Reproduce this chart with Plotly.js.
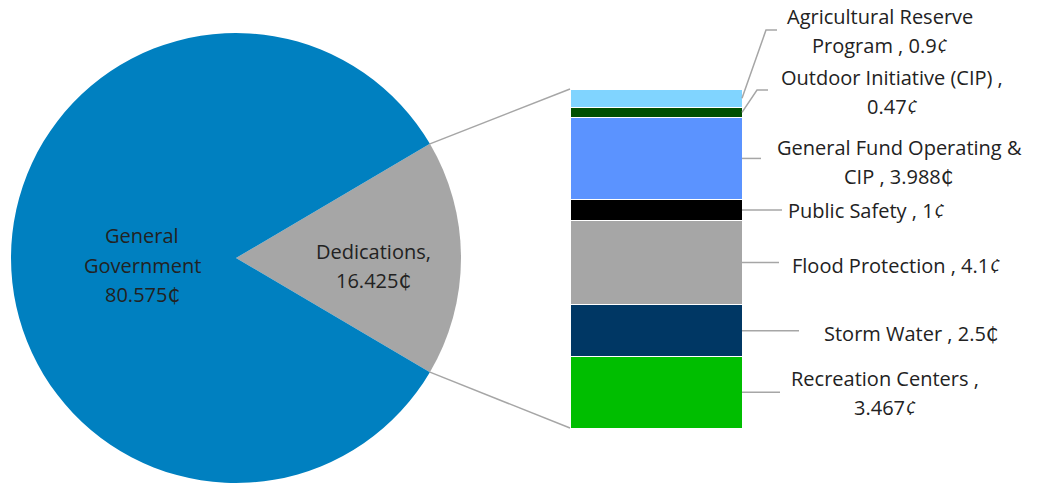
<!DOCTYPE html>
<html><head><meta charset="utf-8">
<script src="https://cdn.plot.ly/plotly-3.0.1.min.js"></script>
<style>html,body{margin:0;padding:0;background:#fff;}#chart{width:1037px;height:484px;}</style>
</head><body><div id="chart"></div>
<script>
// ---- data ----
const pieLabels = ['General Government', 'Dedications'];
const pieValues = [80.575, 16.425];
const pieUnits = ['₵', '₵'];
const pieColors = ['#0080C0', '#A6A6A6'];

const barLabels = ['Recreation Centers', 'Storm Water', 'Flood Protection', 'Public Safety',
  'General Fund Operating & CIP', 'Outdoor Initiative (CIP)', 'Agricultural Reserve Program'];
const barValues = [3.467, 2.5, 4.1, 1, 3.988, 0.47, 0.9];
const barUnits = ['¢', '₵', '¢', '¢', '₵', '¢', '¢'];
const barColors = ['#00BE00', '#003764', '#A6A6A6', '#000000', '#5B93FF', '#004F00', '#80D4FF'];

// ---- layout helpers ----
const W = 1037, H = 484;
const px = x => x / W;
const py = y => 1 - y / H;
const FONT = '"Open Sans", "DejaVu Sans", sans-serif';
const TXT = '#222222';
const LINE = '#A6A6A6';
const FS = 20;

// pie geometry (pixels)
const pieCx = 236, pieCy = 258, pieR = 225;
// bar geometry (pixels)
const barL = 570, barR = 742, barTop = 89, barBot = 428;

const pieTotal = pieValues.reduce((a, b) => a + b, 0);
const dedIdx = 1;
const dedHalfDeg = 180 * pieValues[dedIdx] / pieTotal;

const barTotal = barValues.reduce((a, b) => a + b, 0);
const dataToPxY = v => barBot - (barBot - barTop) * v / barTotal;

const traces = [];
traces.push({
  type: 'pie',
  labels: [pieLabels[1], pieLabels[0]],
  values: [pieValues[1], pieValues[0]],
  marker: {colors: [pieColors[1], pieColors[0]], line: {width: 0}},
  sort: false,
  direction: 'clockwise',
  rotation: 90 - dedHalfDeg,
  textinfo: 'none',
  hoverinfo: 'label+value',
  showlegend: false,
  domain: {x: [px(pieCx - pieR), px(pieCx + pieR)], y: [py(pieCy + pieR), py(pieCy - pieR)]}
});
barLabels.forEach((lab, i) => {
  traces.push({
    type: 'bar', x: [0], y: [barValues[i]], name: lab,
    marker: {color: barColors[i], line: {color: '#ffffff', width: 1}},
    width: 1, showlegend: false, hoverinfo: 'name+y',
    xaxis: 'x', yaxis: 'y'
  });
});

const shapes = [];
// connector lines from pie wedge edges to bar corners
const a = dedHalfDeg * Math.PI / 180;
const tipUp = [pieCx + pieR * Math.cos(a), pieCy - pieR * Math.sin(a)];
const tipDn = [pieCx + pieR * Math.cos(a), pieCy + pieR * Math.sin(a)];
shapes.push({type: 'line', xref: 'paper', yref: 'paper', x0: px(tipUp[0]), y0: py(tipUp[1]), x1: px(barL), y1: py(dataToPxY(barTotal)), line: {color: LINE, width: 1.5}});
shapes.push({type: 'line', xref: 'paper', yref: 'paper', x0: px(tipDn[0]), y0: py(tipDn[1]), x1: px(barL), y1: py(dataToPxY(0)), line: {color: LINE, width: 1.5}});

// label placement (pixels): elbow, end of leader, text centre
const labelPos = [
  {end: [780, null], text: [885, 393]},
  {end: [799, null], text: [911, 333]},
  {end: [779, null], text: [896, 265]},
  {end: [782, null], text: [866, 211]},
  {end: [761, null], text: [899, 162]},
  {elbow: [757, 90], end: [768, 90], text: [892, 92]},
  {elbow: [766, 30], end: [777, 30], text: [880, 31]}
];
const splitAt = {
  'Recreation Centers': ['Recreation Centers ,', ''],
  'General Fund Operating & CIP': ['General Fund Operating &', 'CIP'],
  'Outdoor Initiative (CIP)': ['Outdoor Initiative (CIP) ,', ''],
  'Agricultural Reserve Program': ['Agricultural Reserve', 'Program']
};
const LH = 29.5;
const annotations = [];
function addLines(lines, cx, cy, size) {
  const n = lines.length;
  lines.forEach((t, k) => {
    const y = cy + (k - (n - 1) / 2) * LH;
    annotations.push({xref: 'paper', yref: 'paper', x: px(cx), y: py(y), xanchor: 'center', yanchor: 'middle',
      text: t, showarrow: false, font: {family: FONT, size: size, color: TXT}});
  });
}
const unitHtml = u => u === '¢' ? '<i>¢</i>' : u;

let cum = 0;
barLabels.forEach((lab, i) => {
  const mid = dataToPxY(cum + barValues[i] / 2);
  cum += barValues[i];
  const p = labelPos[i];
  const val = barValues[i] + unitHtml(barUnits[i]);
  if (p.elbow) {
    shapes.push({type: 'path', xref: 'paper', yref: 'paper',
      path: `M ${px(barR)} ${py(mid)} L ${px(p.elbow[0])} ${py(p.elbow[1])} L ${px(p.end[0])} ${py(p.end[1])}`,
      line: {color: LINE, width: 1.5}});
  } else {
    shapes.push({type: 'line', xref: 'paper', yref: 'paper', x0: px(barR), y0: py(mid), x1: px(p.end[0]), y1: py(mid),
      line: {color: LINE, width: 1.5}});
  }
  let lines;
  if (splitAt[lab]) {
    const s = splitAt[lab];
    lines = s[1] === '' ? [s[0], val] : [s[0], s[1] + ' , ' + val];
  } else {
    lines = [lab + ' , ' + val];
  }
  addLines(lines, p.text[0], p.text[1], FS);
});

// pie labels
addLines(['General', 'Government', pieValues[0] + pieUnits[0]], 142, 265, FS);
addLines([pieLabels[1] + ',', pieValues[1] + pieUnits[1]], 373, 266, FS);

const layout = {
  width: W, height: H,
  margin: {l: 0, r: 0, t: 0, b: 0},
  paper_bgcolor: '#ffffff', plot_bgcolor: 'rgba(0,0,0,0)',
  barmode: 'stack', bargap: 0,
  xaxis: {domain: [px(barL), px(barR)], range: [-0.5, 0.5], visible: false, fixedrange: true},
  yaxis: {domain: [py(barBot), py(barTop)], range: [0, barTotal], visible: false, fixedrange: true},
  shapes: shapes,
  annotations: annotations,
  font: {family: FONT, color: TXT}
};
Plotly.newPlot('chart', traces, layout, {displayModeBar: false, staticPlot: true});
</script></body></html>
